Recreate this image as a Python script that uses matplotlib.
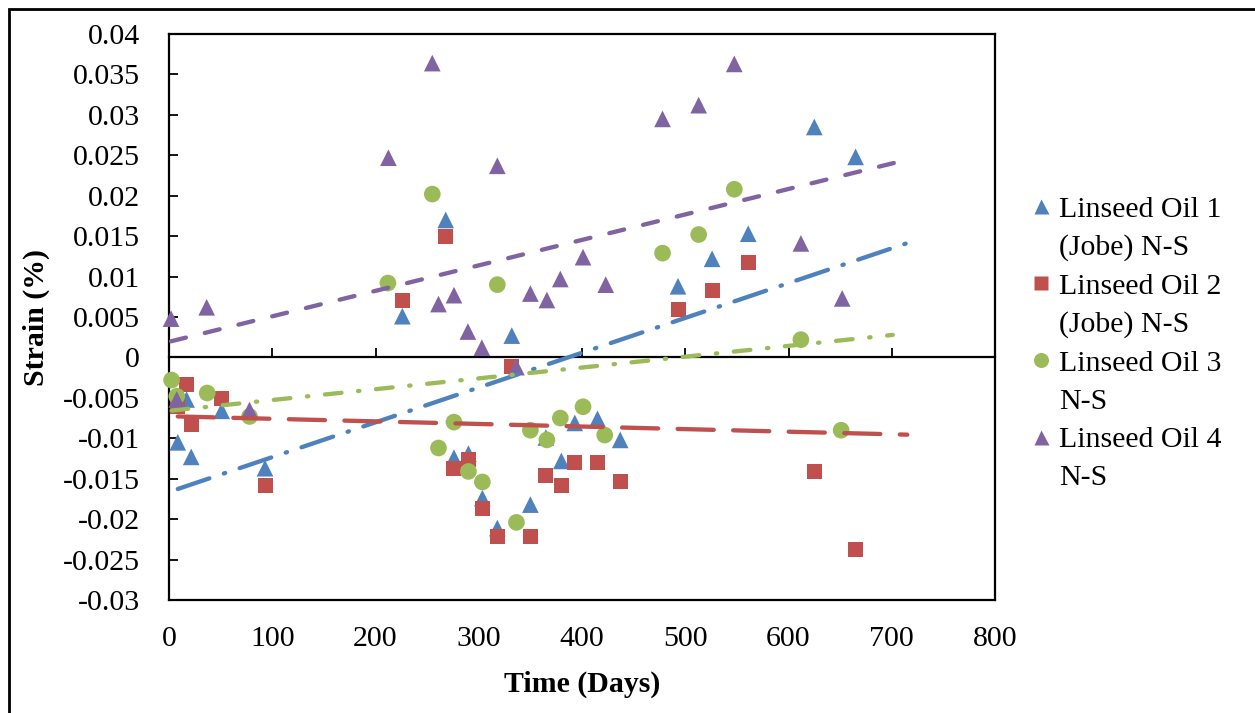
import numpy as np
import matplotlib
matplotlib.use("Agg")
import matplotlib.pyplot as plt
from matplotlib.lines import Line2D
from matplotlib.patches import Rectangle

plt.rcParams['font.family'] = ['Liberation Serif', 'DejaVu Serif']
plt.rcParams['lines.scale_dashes'] = False

# ---------------- data ----------------
oil1_days = [8.5, 17, 21.5, 51, 93, 226, 268, 276, 290, 303.5, 318, 332, 350, 365,
             380, 393, 415, 437, 493, 526, 561, 625, 665]
oil1_strain = [-0.0105, -0.0052, -0.0123, -0.0066, -0.0137, 0.0051, 0.0170, -0.0124,
               -0.0119, -0.0174, -0.0211, 0.0027, -0.0182, -0.0099, -0.0128, -0.0081,
               -0.0076, -0.0102, 0.0088, 0.0122, 0.0153, 0.0285, 0.0248]

oil2_days = [8.5, 17, 22, 51, 93, 226, 268, 276, 290, 303.5, 318, 332, 350, 365,
             380, 393, 415, 437, 493, 526, 561, 625, 665]
oil2_strain = [-0.0061, -0.0034, -0.0083, -0.0051, -0.0158, 0.0071, 0.0150, -0.0137,
               -0.0126, -0.0187, -0.0222, -0.0011, -0.0221, -0.0146, -0.0159, -0.0130,
               -0.0130, -0.0154, 0.0059, 0.0083, 0.0117, -0.0141, -0.0238]

oil3_days = [2.5, 7.5, 37, 78, 212, 255, 261, 276, 290, 303.5, 318, 336.5, 350, 366,
             379, 401, 422, 478, 513, 547.5, 612, 651]
oil3_strain = [-0.0028, -0.0048, -0.0044, -0.0073, 0.0092, 0.0202, -0.0112, -0.0080,
               -0.0141, -0.0154, 0.0090, -0.0204, -0.0090, -0.0102, -0.0075, -0.0061,
               -0.0096, 0.0129, 0.0152, 0.0208, 0.0022, -0.0090]

oil4_days = [2, 7.5, 36.5, 78, 212.5, 255, 261, 276, 289.5, 303, 318, 336.5, 350, 366,
             379, 401, 423, 478, 513, 547.5, 612, 652]
oil4_strain = [0.0048, -0.0052, 0.0062, -0.0065, 0.0247, 0.0364, 0.0066, 0.0077, 0.0032,
               0.0012, 0.0237, -0.0012, 0.0079, 0.0071, 0.0097, 0.0124, 0.0090, 0.0295,
               0.0312, 0.0363, 0.0141, 0.0073]

series_labels = ["Linseed Oil 1", "Linseed Oil 2", "Linseed Oil 3", "Linseed Oil 4"]
series_second_lines = ["(Jobe) N-S", "(Jobe) N-S", "N-S", "N-S"]

x_ticks = [0, 100, 200, 300, 400, 500, 600, 700, 800]
y_ticks = [-0.03, -0.025, -0.02, -0.015, -0.01, -0.005, 0, 0.005, 0.01, 0.015,
           0.02, 0.025, 0.03, 0.035, 0.04]
y_tick_labels = ["-0.03", "-0.025", "-0.02", "-0.015", "-0.01", "-0.005", "0", "0.005",
                 "0.01", "0.015", "0.02", "0.025", "0.03", "0.035", "0.04"]
x_lim = (0, 800)
y_lim = (-0.03, 0.04)
forecast_days = 50

# ---------------- styles ----------------
colors = ['#4F81BD', '#C0504D', '#9BBB59', '#8064A2']
markers = ['^', 's', 'o', '^']
msizes = [12.0, 10.8, 12.0, 12.0]
trend_dashes = [
    (24, 11, 1.0, 11),   # long dash dot
    (26, 14),            # long dash
    (12, 12, 1.0, 12),   # dash dot
    (11, 14),            # dash
]
LW = 3.1
FS = 21.5

fig = plt.figure(figsize=(12.55, 7.13), dpi=100)
ax = fig.add_axes([169 / 1255, 1 - 600 / 713, 826 / 1255, 566 / 713])

all_days = [oil1_days, oil2_days, oil3_days, oil4_days]
all_strain = [oil1_strain, oil2_strain, oil3_strain, oil4_strain]

for i, (d, s) in enumerate(zip(all_days, all_strain)):
    ax.scatter(d, s, marker=markers[i], s=msizes[i] ** 2, color=colors[i],
               edgecolors='none', zorder=3 + i * 0.1, clip_on=False)

for i, (d, s) in enumerate(zip(all_days, all_strain)):
    d = np.asarray(d, float)
    s = np.asarray(s, float)
    m, b = np.polyfit(d, s, 1)
    xs = np.array([d.min(), d.max() + forecast_days])
    ax.plot(xs, m * xs + b, color=colors[i], lw=LW, dashes=trend_dashes[i],
            dash_capstyle='round', zorder=5)

ax.set_xlim(*x_lim)
ax.set_ylim(*y_lim)

for sp in ax.spines.values():
    sp.set_linewidth(1.6)
    sp.set_color('black')

ax.set_xticks(x_ticks)
ax.set_xticklabels([str(t) for t in x_ticks])
ax.tick_params(axis='x', length=0, pad=19, labelsize=FS)
ax.set_yticks(y_ticks)
ax.set_yticklabels(y_tick_labels)
ax.tick_params(axis='y', direction='in', length=6.5, width=1.3, pad=21, labelsize=FS)

# horizontal axis line crossing at zero, with tick marks
zero_frac = (0 - y_lim[0]) / (y_lim[1] - y_lim[0])
sec = ax.secondary_xaxis(zero_frac)
sec.set_xticks(x_ticks)
sec.tick_params(axis='x', direction='in', length=6.5, width=1.3, labelbottom=False)
sec.spines['bottom'].set_linewidth(1.6)

ax.set_xlabel("Time (Days)", fontsize=FS, fontweight='bold', labelpad=13)
ax.set_ylabel("Strain (%)", fontsize=FS, fontweight='bold', labelpad=9)

# legend: first line with marker, second line without
blank = Line2D([], [], linestyle='none', marker=None)
leg_handles, leg_labels = [], []
for i in range(4):
    leg_handles += [Line2D([], [], linestyle='none', marker=markers[i], color=colors[i],
                           markeredgecolor='none', markersize=msizes[i] * 0.9), blank]
    leg_labels += [series_labels[i], series_second_lines[i]]
fig.legend(leg_handles, leg_labels, loc='upper left',
           bbox_to_anchor=(1029.5 / 1255, 1 - 196 / 713), frameon=False,
           fontsize=FS, handlelength=0.8, handletextpad=0.2, borderpad=0,
           borderaxespad=0, labelspacing=0.38)

# outer chart border
fig.patches.append(Rectangle((8.5 / 1255, -0.05), 1.1, 1 - 8.5 / 713 + 0.05,
                             transform=fig.transFigure, fill=False, lw=2.0,
                             edgecolor='black', figure=fig))

fig.savefig("out.png", dpi=100)
